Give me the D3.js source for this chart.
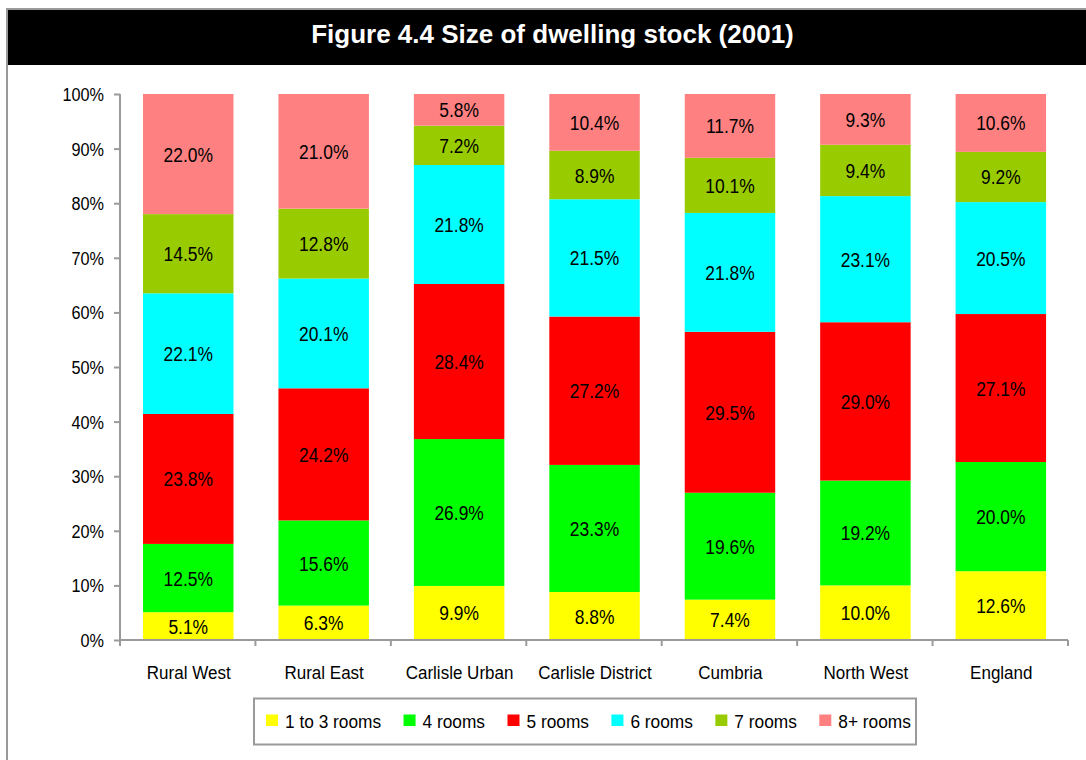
<!DOCTYPE html>
<html>
<head>
<meta charset="utf-8">
<script src="https://cdn.jsdelivr.net/npm/d3@7"></script>
<style>
  html, body { margin: 0; padding: 0; background: #fff; }
  svg { display: block; }
  text { font-family: "Liberation Sans", Arial, sans-serif; }
</style>
</head>
<body>
<script>
// ---- data ----
const categories = ["Rural West", "Rural East", "Carlisle Urban", "Carlisle District", "Cumbria", "North West", "England"];
const seriesNames = ["1 to 3 rooms", "4 rooms", "5 rooms", "6 rooms", "7 rooms", "8+ rooms"];
const seriesColors = ["#FFFF00", "#00FF00", "#FF0000", "#00FFFF", "#99CC00", "#FF8080"];
const rooms1to3 = [5.1, 6.3, 9.9, 8.8, 7.4, 10.0, 12.6];
const rooms4    = [12.5, 15.6, 26.9, 23.3, 19.6, 19.2, 20.0];
const rooms5    = [23.8, 24.2, 28.4, 27.2, 29.5, 29.0, 27.1];
const rooms6    = [22.1, 20.1, 21.8, 21.5, 21.8, 23.1, 20.5];
const rooms7    = [14.5, 12.8, 7.2, 8.9, 10.1, 9.4, 9.2];
const rooms8plus = [22.0, 21.0, 5.8, 10.4, 11.7, 9.3, 10.6];
const yTickValues = [0, 0.1, 0.2, 0.3, 0.4, 0.5, 0.6, 0.7, 0.8, 0.9, 1.0];
const titleText = "Figure 4.4 Size of dwelling stock (2001)";

const seriesValues = [rooms1to3, rooms4, rooms5, rooms6, rooms7, rooms8plus];
const table = categories.map((c, i) => {
  const row = { category: c };
  seriesNames.forEach((s, j) => { row[s] = seriesValues[j][i]; });
  return row;
});

// ---- layout ----
const W = 1086, H = 760;
const svg = d3.select("body").append("svg").attr("width", W).attr("height", H);

// frame + title bar
svg.append("rect").attr("x", 7).attr("y", 9).attr("width", 1100).attr("height", 800)
  .attr("fill", "none").attr("stroke", "#9a9a9a").attr("stroke-width", 2);
svg.append("rect").attr("x", 8).attr("y", 10).attr("width", 1090).attr("height", 55).attr("fill", "#000");
svg.append("text").attr("x", 552.5).attr("y", 43).attr("text-anchor", "middle")
  .attr("fill", "#fff").attr("font-weight", "bold").attr("font-size", 26).text(titleText);

const x = d3.scaleBand().domain(categories).range([120, 1068]).paddingInner(0).paddingOuter(0);
const y = d3.scaleLinear().domain([0, 1]).range([640, 94]);

const barOffset = x.step() * 0.17;
const barWidth = x.step() * 0.668;

const stack = d3.stack().keys(seriesNames).offset(d3.stackOffsetExpand);
const stacked = stack(table);

const g = svg.append("g");
const layers = g.selectAll("g.layer").data(stacked).join("g")
  .attr("class", "layer")
  .attr("fill", (d, i) => seriesColors[i]);
layers.selectAll("rect").data(d => d).join("rect")
  .attr("x", d => x(d.data.category) + barOffset)
  .attr("width", barWidth)
  .attr("y", d => y(d[1]))
  .attr("height", d => y(d[0]) - y(d[1]));

// data labels
function stretchText(sel, fs, sx) {
  sel.attr("font-size", fs);
}
layers.each(function(layer) {
  const key = layer.key;
  d3.select(this).selectAll("text.lbl").data(layer).join("text")
    .attr("class", "lbl")
    .attr("transform", d => `translate(${x(d.data.category) + barOffset + barWidth / 2},${(y(d[0]) + y(d[1])) / 2 + 7.5}) scale(0.85,1)`)
    .attr("text-anchor", "middle")
    .attr("font-size", 20.5)
    .attr("fill", "#000")
    .text(d => d3.format(".1f")(d.data[key]) + "%");
});

// y axis
const yAxis = d3.axisLeft(y).tickValues(yTickValues).tickSize(6).tickFormat(d3.format(".0%"));
const ya = svg.append("g").attr("transform", "translate(120,0)").call(yAxis);
ya.select(".domain").attr("stroke", "#9a9a9a").attr("stroke-width", 2).attr("d", `M0,${y(1)}V${y(0)}`);
ya.selectAll(".tick line").attr("stroke", "#9a9a9a").attr("stroke-width", 2);
ya.selectAll(".tick text")
  .attr("x", null).attr("dy", null)
  .attr("transform", "translate(-16,6.5) scale(0.93,1)")
  .attr("font-size", 17.5).attr("fill", "#000")
  .attr("font-family", "Liberation Sans, Arial, sans-serif");

// x axis
const xa = svg.append("g").attr("transform", "translate(0,640)");
xa.append("line").attr("x1", 120).attr("x2", 1068).attr("y1", 0).attr("y2", 0)
  .attr("stroke", "#9a9a9a").attr("stroke-width", 2);
const boundaries = categories.map(c => x(c)).concat([x(categories[categories.length - 1]) + x.step()]);
xa.selectAll("line.tk").data(boundaries).join("line").attr("class", "tk")
  .attr("x1", d => d).attr("x2", d => d).attr("y1", 0).attr("y2", 6)
  .attr("stroke", "#9a9a9a").attr("stroke-width", 2);
xa.selectAll("text").data(categories).join("text")
  .attr("transform", d => `translate(${x(d) + x.step() / 2 + 1},39) scale(0.92,1)`)
  .attr("text-anchor", "middle").attr("font-size", 18.5).attr("fill", "#000")
  .text(d => d);

// legend
const lg = svg.append("g");
lg.append("rect").attr("x", 254).attr("y", 698.5).attr("width", 662).attr("height", 46)
  .attr("fill", "#fff").attr("stroke", "#9a9a9a").attr("stroke-width", 2);
let lx = 266;
seriesNames.forEach((s, i) => {
  lg.append("rect").attr("x", lx).attr("y", 714.5).attr("width", 12).attr("height", 11.5).attr("fill", seriesColors[i]);
  const t = lg.append("text")
    .attr("transform", `translate(${lx + 19},727.5) scale(0.91,1)`)
    .attr("font-size", 19).attr("fill", "#000").text(s);
  const w = t.node().getComputedTextLength() * 0.91;
  lx += 19 + w + 22.5;
});
</script>
</body>
</html>
